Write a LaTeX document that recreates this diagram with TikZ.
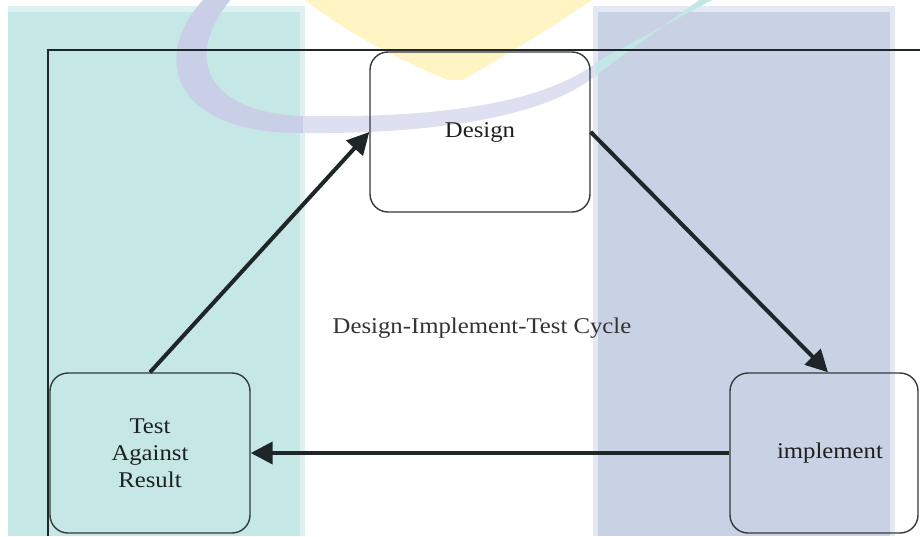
\documentclass[tikz,border=0pt]{standalone}
\usepackage{fontspec}
\setmainfont{Liberation Serif}[FakeStretch=1.1]
\usetikzlibrary{arrows.meta}
\definecolor{tealband}{HTML}{C5E8E6}
\definecolor{tealedge}{HTML}{DDF1F1}
\definecolor{blueband}{HTML}{C9D1E4}
\definecolor{blueedge}{HTML}{E4E8F2}
\definecolor{swooshA}{HTML}{C8CFE6}
\definecolor{swooshW}{HTML}{DCE0F0}
\definecolor{swooshB}{HTML}{C2E8E6}
\definecolor{wmyellow}{HTML}{FFF5C4}
\definecolor{inkdark}{HTML}{1E2628}
\definecolor{boxline}{HTML}{333A3C}
\tikzset{
  stagebox/.style={draw=boxline, line width=1.4pt, rounded corners=18pt, minimum height=160pt, align=center, inner sep=0pt, text=black!88, font=\fontsize{22.5}{27}\selectfont},
  cyclearrow/.style={draw=inkdark, line width=4pt, -{Triangle[length=22pt,width=22pt]}},
  frameline/.style={draw=inkdark, line width=1.4pt},
  midlabel/.style={text=black!80, font=\fontsize{22.5}{27}\selectfont}
}
\begin{document}
\begin{tikzpicture}[x=1pt,y=-1pt]
\useasboundingbox (0,0) rectangle (920,536);
\fill[white] (0,0) rectangle (920,536);
% background bands
\fill[tealedge] (8,6) rectangle (305,536);
\fill[tealband] (8,12) rectangle (300,536);
\fill[blueedge] (593,6) rectangle (895,536);
\fill[blueband] (598,12) rectangle (890,536);
% watermark
\fill[wmyellow] (305,0) -- (592,0) .. controls (540,35) and (490,65) .. (462,80) -- (448,80) .. controls (400,60) and (350,35) .. cycle;
\def\swooshpath{(205,-2) .. controls (150,55) and (170,133) .. (300,133) .. controls (400,134) and (540,125) .. (600,72) -- (702,-2) -- (716,-2) -- (600,60) .. controls (540,108) and (420,118) .. (300,116) .. controls (210,112) and (180,60) .. (232,-2) -- cycle}
\begin{scope}
  \clip (0,0) rectangle (303,536);
  \fill[swooshA] \swooshpath;
\end{scope}
\begin{scope}
  \clip (303,0) rectangle (596,536);
  \fill[swooshW] \swooshpath;
\end{scope}
\begin{scope}
  \clip (596,0) rectangle (920,536);
  \fill[swooshB] \swooshpath;
\end{scope}
% frame
\coordinate (fr) at (920,50);
\coordinate (fc) at (48,50);
\coordinate (fb) at (48,536);
\draw[frameline] (fr) -- (fc) -- (fb);
% stages
\node[stagebox, minimum width=220pt] (design) at (480,132) {Design};
\node[stagebox, minimum width=200pt] (test) at (150,453) {Test\\Against\\Result};
\node[stagebox, minimum width=188pt] (impl) at (824,453) {\hspace*{12pt}implement};
\node[midlabel] (cycle) at (482,328) {Design-Implement-Test Cycle};
% connectors
\draw[cyclearrow] (test.north) -- (design.west);
\draw[cyclearrow] (design.east) -- ([xshift=4pt]impl.north);
\draw[cyclearrow] (impl.west) -- (test.east);
\end{tikzpicture}
\end{document}
